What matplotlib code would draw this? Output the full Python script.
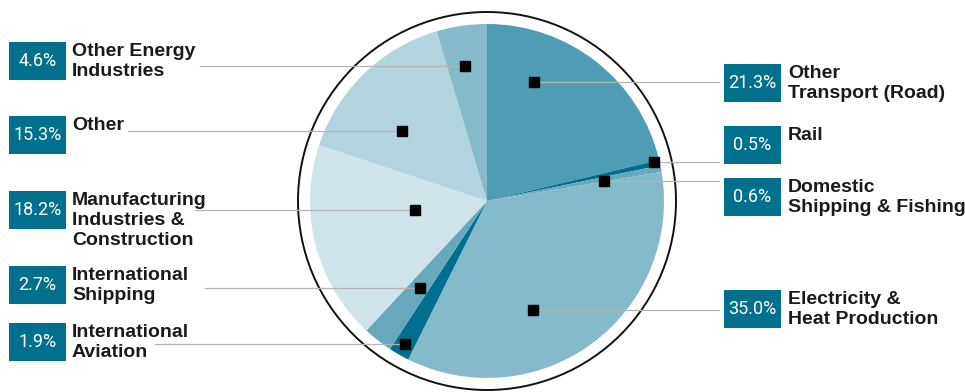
import numpy as np
import matplotlib.pyplot as plt

# data
labels = ["Other\nTransport (Road)", "Rail", "Domestic\nShipping & Fishing",
          "Electricity &\nHeat Production", "International\nAviation",
          "International\nShipping", "Manufacturing\nIndustries &\nConstruction",
          "Other", "Other Energy\nIndustries"]
values = [21.3, 0.5, 0.6, 35.0, 1.9, 2.7, 18.2, 15.3, 4.6]
pct_text = ["21.3%", "0.5%", "0.6%", "35.0%", "1.9%", "2.7%", "18.2%", "15.3%", "4.6%"]
colors = ["#4e9db4", "#006e8c", "#66a9bd", "#84bacb", "#006e8c",
          "#66a9bd", "#cfe3ea", "#b2d4df", "#84bacb"]

# layout (pixels, y down)
W, H = 965, 392
cx, cy, R = 487, 201, 177
side = ["R", "R", "R", "R", "L", "L", "L", "L", "L"]
box_top = [64, 126, 178, 290, 323, 266, 191, 116, 42]
line_start = [None, None, None, None, 155, 205, 195, 128, 200]
mk_t = [0.28, 0.2, 0.84, 0.61, 0.49, 0.47, 0.61, 0.38, 0.45]
mk_r = [0.72, 0.97, 0.67, 0.67, 0.93, 0.62, 0.41, 0.62, 0.77]
box_color = "#00708c"

fy = lambda y: H - y

fig = plt.figure(figsize=(W / 100, H / 100), dpi=100)
ax = fig.add_axes([0, 0, 1, 1])
ax.pie(values, colors=colors, startangle=90, counterclock=False,
       center=(cx, fy(cy)), radius=R, frame=True,
       wedgeprops=dict(linewidth=0))
ax.set_xlim(0, W)
ax.set_ylim(0, H)
ax.axis("off")

# outer ring
ax.add_patch(plt.Circle((cx, fy(cy)), 189, fill=False, color="#111111", lw=1.4, zorder=1))

total = sum(values)
cum = np.cumsum([0] + values[:-1]) / total * 360
span = np.array(values) / total * 360

for i in range(len(values)):
    ang = np.radians(cum[i] + mk_t[i] * span[i])
    mx = cx + R * mk_r[i] * np.sin(ang)
    my = cy - R * mk_r[i] * np.cos(ang)
    if side[i] == "R":
        bx, tx = 724, 788
        ax.plot([mx, 719], [fy(my), fy(my)], color="#b5b5b5", lw=0.9, zorder=3)
    else:
        bx, tx = 9, 72
        ax.plot([line_start[i], mx], [fy(my), fy(my)], color="#b5b5b5", lw=0.9, zorder=3)
    ax.plot(mx, fy(my), "s", color="black", markersize=6.5, zorder=5)

    # percentage box + label
    ax.add_patch(plt.Rectangle((bx, fy(box_top[i] + 38)), 57, 38,
                               color=box_color, lw=0, zorder=4))
    ax.text(bx + 28.5, fy(box_top[i] + 19), pct_text[i], color="white",
            fontsize=13, ha="center", va="center", family="Roboto", zorder=6)
    ax.text(tx, fy(box_top[i] + 1), labels[i], color="#1a1a1a",
            fontsize=14, fontweight="bold", ha="left", va="top",
            linespacing=1.22, family="Liberation Sans", zorder=6)

fig.savefig("out.png", dpi=100)
